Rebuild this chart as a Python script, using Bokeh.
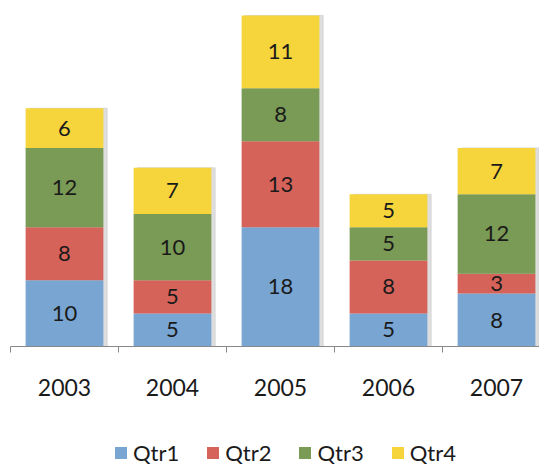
from bokeh.plotting import figure
from bokeh.layouts import column
from bokeh.models import ColumnDataSource, FixedTicker, Legend, LegendItem, Range1d
from bokeh.embed import file_html
from bokeh.resources import INLINE
from bokeh.core.properties import value

years = ["2003", "2004", "2005", "2006", "2007"]
qtr1 = [10, 5, 18, 5, 8]
qtr2 = [8, 5, 13, 8, 3]
qtr3 = [12, 10, 8, 5, 12]
qtr4 = [6, 7, 11, 5, 7]
series = ["Qtr1", "Qtr2", "Qtr3", "Qtr4"]
colors = ["#78A5D2", "#D6635A", "#7A9B55", "#F5D43C"]

xs = list(range(len(years)))
data = dict(x=xs, Qtr1=qtr1, Qtr2=qtr2, Qtr3=qtr3, Qtr4=qtr4)
totals = [a + b + c + d for a, b, c, d in zip(qtr1, qtr2, qtr3, qtr4)]
data["total"] = totals
data["xs"] = [x + 0.035 for x in xs]
src = ColumnDataSource(data)

FONT = "Lato"

p = figure(frame_width=529, frame_height=346, output_backend="svg", toolbar_location=None,
           x_range=Range1d(-0.5, 4.398), y_range=Range1d(0, 52.27))
p.min_border_left = 10
p.min_border_right = 0
p.min_border_top = 0
p.min_border_bottom = 80
p.outline_line_color = None
p.grid.visible = False
p.yaxis.visible = False
p.background_fill_color = "white"

# soft shadow
p.vbar(x="xs", top="total", bottom=0, width=0.72, source=src, color="#C8C8C8", alpha=0.6)

renderers = p.vbar_stack(series, x="x", width=0.72, source=src, color=colors, line_color=None)

# labels
bottoms = [0] * len(years)
for s, vals in zip(series, [qtr1, qtr2, qtr3, qtr4]):
    mids = [b + v / 2 for b, v in zip(bottoms, vals)]
    lsrc = ColumnDataSource(dict(x=xs, y=mids, t=[str(v) for v in vals]))
    p.text(x="x", y="y", text="t", source=lsrc, text_align="center", text_baseline="middle",
           text_font=value(FONT), text_font_size="22px", text_color="#1A1A1A")
    bottoms = [b + v for b, v in zip(bottoms, vals)]

ax = p.xaxis[0]
ax.ticker = FixedTicker(ticks=xs, minor_ticks=[x - 0.5 for x in xs] + [len(xs) - 0.5])
ax.major_label_overrides = {x: y for x, y in zip(xs, years)}
ax.major_tick_out = 0
ax.major_tick_in = 0
ax.minor_tick_out = 6
ax.minor_tick_in = 0
ax.minor_tick_line_color = "#888888"
ax.axis_line_color = "#888888"
ax.major_label_text_font = FONT
ax.major_label_text_font_size = "23px"
ax.major_label_text_color = "#1A1A1A"
ax.major_label_standoff = 26

# legend figure (same stacked data, kept out of its view so only the legend shows)
q = figure(width=539, height=41, output_backend="svg", toolbar_location=None,
           x_range=Range1d(100, 101), y_range=Range1d(100, 101))
q.min_border = 0
q.outline_line_color = None
q.grid.visible = False
q.axis.visible = False
q_renderers = q.vbar_stack(series, x="x", width=0.72, source=src, color=colors, line_color=None)
items = [LegendItem(label=s, renderers=[r]) for s, r in zip(series, q_renderers)]
legend = Legend(items=items, orientation="horizontal", location=(103, 1))
legend.label_text_font = FONT
legend.label_text_font_size = "22px"
legend.label_text_color = "#1A1A1A"
legend.glyph_width = 15
legend.glyph_height = 15
legend.label_standoff = 5
legend.spacing = 26
legend.border_line_color = None
legend.background_fill_alpha = 0
legend.padding = 0
legend.margin = 0
q.add_layout(legend, "center")

layout = column(p, q, spacing=0)
open("out.html", "w").write(file_html(layout, INLINE))
